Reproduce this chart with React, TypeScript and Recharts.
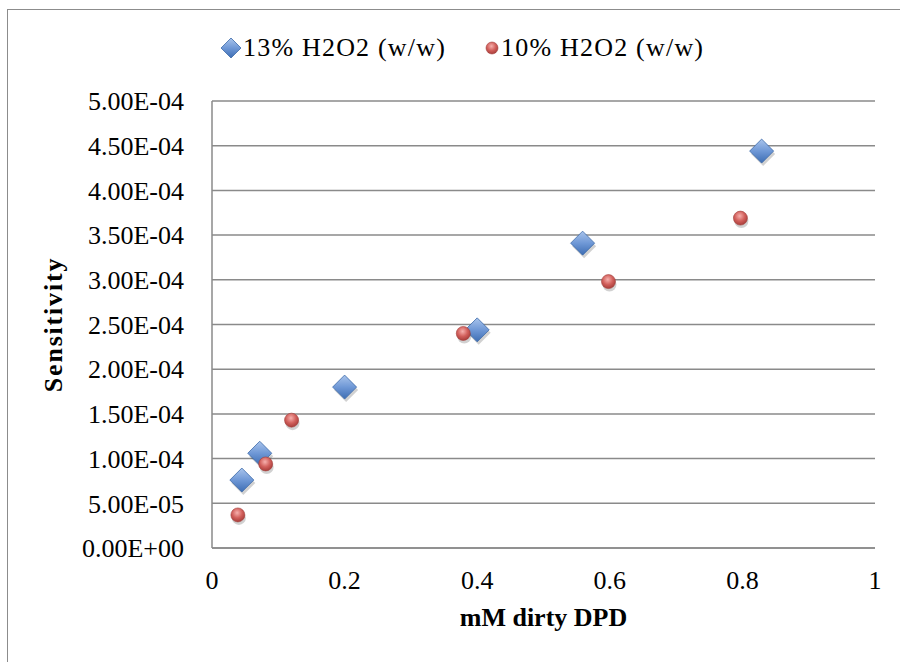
import {
	ScatterChart,
	Scatter,
	XAxis,
	YAxis,
	CartesianGrid,
	Label,
} from "recharts";

// 13% H2O2 (w/w)
const xs13 = [0.045, 0.072, 0.2, 0.4, 0.559, 0.829];
const ys13 = [7.6e-5, 1.06e-4, 1.8e-4, 2.44e-4, 3.41e-4, 4.44e-4];

// 10% H2O2 (w/w)
const xs10 = [0.039, 0.081, 0.12, 0.379, 0.598, 0.797];
const ys10 = [3.7e-5, 9.4e-5, 1.43e-4, 2.4e-4, 2.98e-4, 3.69e-4];

const xTicks = [0, 0.2, 0.4, 0.6, 0.8, 1];
const yTicks = [
	0, 0.00005, 0.0001, 0.00015, 0.0002, 0.00025, 0.0003, 0.00035, 0.0004,
	0.00045, 0.0005,
];

const seriesNames = ["13% H2O2 (w/w)", "10% H2O2 (w/w)"];

const data13 = xs13.map((x, i) => ({ x, y: ys13[i] }));
const data10 = xs10.map((x, i) => ({ x, y: ys10[i] }));

const FONT = "'Liberation Serif', 'Times New Roman', serif";
const GRID = "#8a8a8a";
const FS = 26;

// Excel style exponent: 5.00E-04
const fmtExp = (v: number) => {
	const [m, e] = v.toExponential(2).split("e");
	const n = parseInt(e, 10);
	return `${m}E${n < 0 ? "-" : "+"}${String(Math.abs(n)).padStart(2, "0")}`;
};

const Diamond = (props: any) => {
	const { cx, cy } = props;
	if (cx == null || cy == null) return null;
	const h = 12;
	const pts = (dx: number, dy: number) =>
		`${cx + dx},${cy - h + dy} ${cx + h + dx},${cy + dy} ${cx + dx},${cy + h + dy} ${cx - h + dx},${cy + dy}`;
	return (
		<g>
			<polygon points={pts(1.5, 3)} fill="rgba(0,0,0,0.18)" />
			<polygon points={pts(0, 0)} fill="url(#blueGrad)" stroke="#3c6aa8" strokeWidth={0.8} />
		</g>
	);
};

const Dot = (props: any) => {
	const { cx, cy } = props;
	if (cx == null || cy == null) return null;
	return (
		<g>
			<circle cx={cx + 1} cy={cy + 3} r={7} fill="rgba(0,0,0,0.18)" />
			<circle cx={cx} cy={cy} r={7} fill="url(#redGrad)" stroke="#a33f3c" strokeWidth={0.6} />
		</g>
	);
};

const LegendBox = () => (
	<div
		style={{
			position: "absolute",
			left: 220,
			top: 33,
			display: "flex",
			alignItems: "center",
			fontFamily: FONT,
			fontSize: FS,
			letterSpacing: 1.2,
			color: "#000",
			whiteSpace: "nowrap",
		}}
	>
		<svg width={22} height={22} style={{ marginRight: 1 }}>
			<polygon points="11,1 21,11 11,21 1,11" fill="url(#blueGrad)" stroke="#3c6aa8" strokeWidth={0.8} />
		</svg>
		<span>{seriesNames[0]}</span>
		<svg width={16} height={16} style={{ marginLeft: 38, marginRight: 1 }}>
			<circle cx={8} cy={8} r={6} fill="url(#redGrad)" stroke="#a33f3c" strokeWidth={0.6} />
		</svg>
		<span>{seriesNames[1]}</span>
	</div>
);

export default function App() {
	return (
		<div
			style={{
				position: "absolute",
				left: 0,
				top: 0,
				width: 900,
				height: 662,
				overflow: "hidden",
				background: "#fff",
			}}
		>
			<div
				style={{
					position: "absolute",
					left: 7,
					top: 9,
					width: 1000,
					height: 1000,
					border: "1.5px solid #8c8c8c",
				}}
			/>
			<div style={{ position: "absolute", left: 0, top: 0 }}>
				<ScatterChart
					width={900}
					height={662}
					margin={{ top: 101, right: 25, bottom: 54, left: 82 }}
				>
					<defs>
						<linearGradient id="blueGrad" x1="0" y1="0" x2="0" y2="1">
							<stop offset="0%" stopColor="#a9c4ec" />
							<stop offset="50%" stopColor="#6f98d6" />
							<stop offset="100%" stopColor="#3d6db3" />
						</linearGradient>
						<radialGradient id="redGrad" cx="45%" cy="35%" r="65%">
							<stop offset="0%" stopColor="#f6b0ad" />
							<stop offset="55%" stopColor="#d2605c" />
							<stop offset="100%" stopColor="#a83d3a" />
						</radialGradient>
					</defs>
					<CartesianGrid vertical={false} stroke={GRID} strokeWidth={1.5} />
					<XAxis
						type="number"
						dataKey="x"
						domain={[0, 1]}
						ticks={xTicks}
						height={60}
						axisLine={{ stroke: GRID, strokeWidth: 1.5 }}
						tickLine={false}
						tick={{ fill: "#000", fontSize: FS, fontFamily: FONT }}
						tickMargin={17}
					>
						<Label
							value="mM dirty DPD"
							position="insideBottom"
							offset={-18}
							style={{ fontFamily: FONT, fontSize: FS, fontWeight: "bold", fill: "#000" }}
						/>
					</XAxis>
					<YAxis
						type="number"
						dataKey="y"
						domain={[0, 0.0005]}
						ticks={yTicks}
						width={130}
						interval={0}
						axisLine={{ stroke: GRID, strokeWidth: 1.5 }}
						tickLine={false}
						tickFormatter={fmtExp}
						tick={{ fill: "#000", fontSize: FS, fontFamily: FONT }}
						tickMargin={22}
					>
						<Label
							value="Sensitivity"
							angle={-90}
							position="insideLeft"
							offset={-29}
							style={{
								fontFamily: FONT,
								fontSize: FS,
								fontWeight: "bold",
								fill: "#000",
								letterSpacing: 1.8,
								textAnchor: "middle",
							}}
						/>
					</YAxis>
					<Scatter
						name={seriesNames[0]}
						data={data13}
						shape={<Diamond />}
						isAnimationActive={false}
					/>
					<Scatter
						name={seriesNames[1]}
						data={data10}
						shape={<Dot />}
						isAnimationActive={false}
					/>
				</ScatterChart>
			</div>
			<LegendBox />
		</div>
	);
}
